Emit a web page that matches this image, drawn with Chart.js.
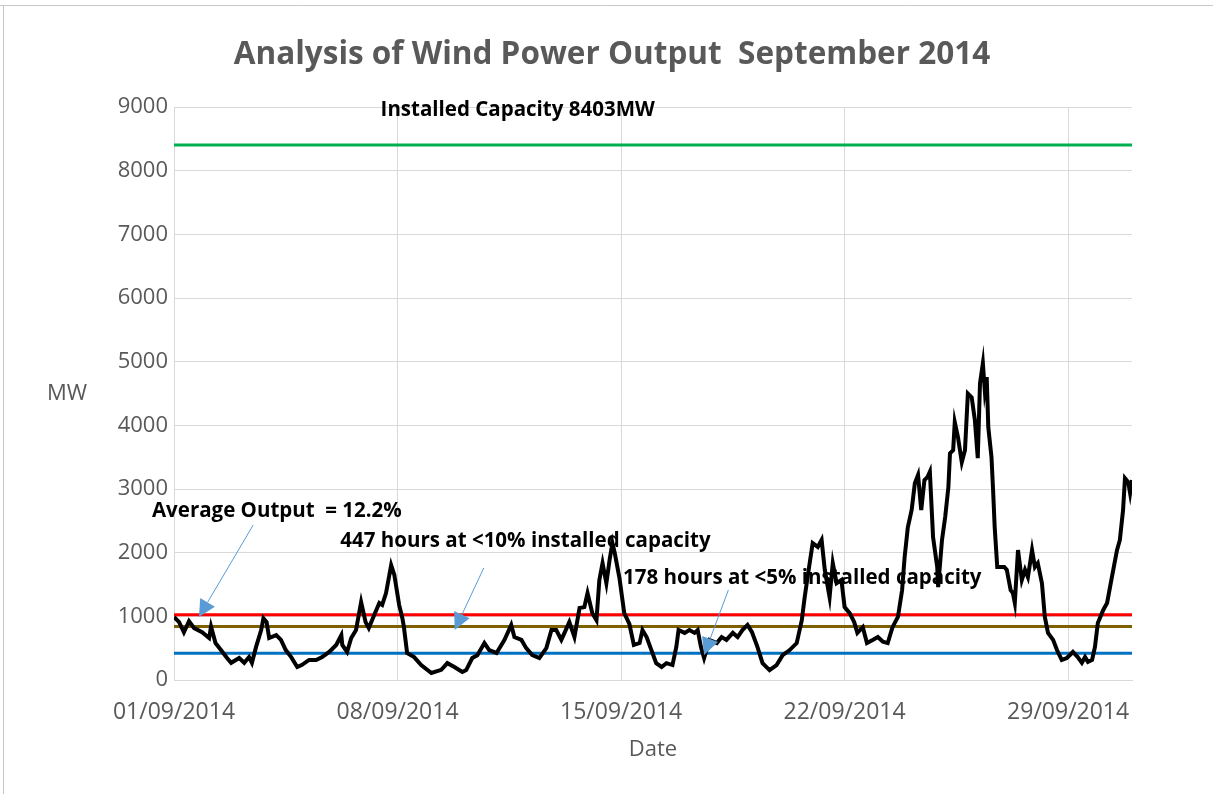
<!DOCTYPE html>
<html>
<head>
<meta charset="utf-8">
<title>Analysis of Wind Power Output September 2014</title>
<script src="https://cdn.jsdelivr.net/npm/chart.js@4.4.1/dist/chart.umd.min.js"></script>
<style>
  html, body { margin: 0; padding: 0; background: #fff; }
  #wrap { width: 1213px; height: 794px; }
</style>
</head>
<body>
<div id="wrap"><canvas id="windChart" width="1213" height="794"></canvas></div>
<script>
// Data: days since 01/09/2014 00:00 and wind output in MW
const dayOffsets = [
  0.00, 0.16, 0.31, 0.47, 0.63, 0.88, 1.10, 1.16, 1.30, 1.47, 1.66, 1.79, 2.04, 2.20, 2.35, 2.44, 2.57, 2.73, 2.80, 2.90,
  2.98, 3.20, 3.35, 3.50, 3.67, 3.86, 4.00, 4.23, 4.45, 4.64, 4.86, 5.08, 5.24, 5.27, 5.42, 5.55, 5.70, 5.86, 6.00, 6.10,
  6.27, 6.43, 6.52, 6.64, 6.80, 6.90, 7.05, 7.15, 7.20, 7.30, 7.52, 7.74, 8.06, 8.37, 8.56, 8.78, 9.03, 9.15, 9.34, 9.50,
  9.72, 9.87, 10.10, 10.35, 10.56, 10.66, 10.88, 11.03, 11.22, 11.44, 11.66, 11.82, 11.97, 12.13, 12.38, 12.54, 12.70, 12.85, 12.95, 13.10,
  13.23, 13.32, 13.42, 13.54, 13.64, 13.73, 13.80, 13.95, 14.10, 14.26, 14.40, 14.58, 14.67, 14.80, 14.95, 15.10, 15.27, 15.42, 15.61, 15.73,
  15.80, 15.99, 16.14, 16.30, 16.40, 16.50, 16.60, 16.77, 17.00, 17.15, 17.30, 17.50, 17.65, 17.80, 17.96, 18.10, 18.27, 18.43, 18.65, 18.87,
  19.06, 19.28, 19.50, 19.66, 19.75, 19.84, 20.00, 20.16, 20.28, 20.38, 20.53, 20.63, 20.75, 20.90, 21.00, 21.16, 21.30, 21.40, 21.57, 21.70,
  21.88, 22.04, 22.20, 22.35, 22.50, 22.67, 22.80, 22.88, 22.98, 23.10, 23.20, 23.30, 23.40, 23.50, 23.60, 23.67, 23.77, 23.90, 23.93, 24.05,
  24.15, 24.25, 24.30, 24.40, 24.45, 24.55, 24.67, 24.77, 24.86, 24.98, 25.08, 25.17, 25.24, 25.33, 25.39, 25.45, 25.50, 25.60, 25.65, 25.70,
  25.78, 26.00, 26.08, 26.20, 26.27, 26.33, 26.43, 26.55, 26.65, 26.74, 26.87, 26.96, 27.05, 27.18, 27.27, 27.37, 27.53, 27.65, 27.80, 27.96,
  28.15, 28.30, 28.43, 28.53, 28.62, 28.75, 28.84, 28.93, 29.10, 29.22, 29.37, 29.53, 29.62, 29.72, 29.78, 29.88, 29.94, 30.00
];
const outputMW = [
  990, 910, 750, 925, 815, 750, 660, 840, 580, 470, 345, 270, 345, 270, 360, 270, 520, 785, 970, 910,
  660, 705, 630, 470, 360, 205, 235, 315, 315, 360, 440, 550, 705, 550, 440, 660, 785, 1225, 910, 815,
  1020, 1210, 1180, 1365, 1805, 1650, 1180, 975, 830, 425, 360, 235, 110, 160, 265, 205, 125, 155, 345, 390,
  580, 470, 425, 630, 865, 675, 630, 500, 390, 345, 500, 785, 785, 630, 910, 675, 1130, 1145, 1365, 1050,
  940, 1570, 1835, 1520, 1885, 2150, 2000, 1600, 1050, 880, 550, 580, 785, 675, 470, 265, 205, 265, 235, 520,
  785, 740, 785, 740, 785, 520, 345, 630, 580, 675, 630, 740, 675, 785, 865, 750, 520, 265, 155, 235,
  390, 470, 580, 940, 1300, 1615, 2150, 2090, 2200, 1730, 1300, 1835, 1520, 1570, 1145, 1050, 910, 740, 830, 580,
  630, 675, 600, 580, 830, 990, 1410, 1930, 2400, 2670, 3090, 3220, 2670, 3140, 3190, 3270, 2245, 1775, 1460, 2200,
  2560, 3030, 3560, 3610, 4050, 3815, 3420, 3610, 4500, 4440, 4080, 3485, 4660, 4975, 4550, 4760, 3970, 3500, 2980, 2400,
  1775, 1775, 1730, 1410, 1365, 1210, 2040, 1570, 1730, 1615, 2040, 1775, 1835, 1520, 990, 740, 630, 470, 315, 345,
  440, 360, 270, 360, 285, 315, 520, 895, 1100, 1210, 1615, 2040, 2200, 2670, 3170, 3110, 2935, 3140
];

// Reference levels
const installedCapacity = 8403;
const averageOutput = 1025;    // 12.2%
const tenPercentLevel = 840;   // 10%
const fivePercentLevel = 420;  // 5%

const tickDays = [0, 7, 14, 21, 28];
const tickLabels = ['01/09/2014', '08/09/2014', '15/09/2014', '22/09/2014', '29/09/2014'];

// Annotations (positions in days / MW)
const noteTexts = ['Installed Capacity 8403MW', 'Average Output  = 12.2%', '447 hours at <10% installed capacity', '178 hours at <5% installed capacity'];
const noteX = [6.47, -0.69, 5.21, 14.06];
const noteY = [8953, 2654, 2183, 1602];
const arrowFrom = [[2.48, 2434], [9.70, 1759], [17.36, 1414]];
const arrowTo = [[0.78, 990], [8.79, 785], [16.60, 393]];

const FONT = "'Open Sans', 'Liberation Sans', sans-serif";
const GREY = '#595959';

const series = dayOffsets.map((d, i) => ({ x: d, y: outputMW[i] }));
const flat = v => [{ x: 0, y: v }, { x: 30, y: v }];

const extras = {
  id: 'extras',
  beforeDraw(chart) {
    const ctx = chart.ctx;
    ctx.save();
    ctx.strokeStyle = '#c8c8c8';
    ctx.lineWidth = 1;
    ctx.beginPath();
    ctx.moveTo(0, 5.5); ctx.lineTo(1213, 5.5);
    ctx.moveTo(3.5, 6); ctx.lineTo(3.5, 794);
    ctx.stroke();
    ctx.restore();
  },
  afterDatasetsDraw(chart) {
    const { ctx, scales: { x, y }, chartArea } = chart;
    ctx.save();
    // y axis title, horizontal
    ctx.fillStyle = GREY;
    ctx.font = '22px ' + FONT;
    ctx.textAlign = 'center';
    ctx.textBaseline = 'middle';
    ctx.fillText('MW', chartArea.left - 107, (chartArea.top + chartArea.bottom) / 2);

    // notes
    ctx.fillStyle = '#000';
    ctx.font = 'bold 20.5px ' + FONT;
    ctx.textAlign = 'left';
    noteTexts.forEach((t, i) => {
      ctx.fillText(t, x.getPixelForValue(noteX[i]), y.getPixelForValue(noteY[i]));
    });

    // arrows
    ctx.strokeStyle = '#5b9bd5';
    ctx.fillStyle = '#5b9bd5';
    ctx.lineWidth = 1;
    arrowFrom.forEach((f, i) => {
      const x0 = x.getPixelForValue(f[0]), y0 = y.getPixelForValue(f[1]);
      const x1 = x.getPixelForValue(arrowTo[i][0]), y1 = y.getPixelForValue(arrowTo[i][1]);
      const ang = Math.atan2(y1 - y0, x1 - x0);
      const len = 17, half = 8.5;
      const bx = x1 - len * Math.cos(ang), by = y1 - len * Math.sin(ang);
      ctx.beginPath();
      ctx.moveTo(x0, y0); ctx.lineTo(bx, by);
      ctx.stroke();
      ctx.beginPath();
      ctx.moveTo(x1, y1);
      ctx.lineTo(bx + half * Math.sin(ang), by - half * Math.cos(ang));
      ctx.lineTo(bx - half * Math.sin(ang), by + half * Math.cos(ang));
      ctx.closePath();
      ctx.fill();
    });
    ctx.restore();
  }
};

new Chart(document.getElementById('windChart'), {
  type: 'line',
  data: {
    datasets: [
      { label: 'Output', data: series, borderColor: '#000', borderWidth: 4, pointRadius: 0, tension: 0 },
      { label: 'Installed capacity', data: flat(installedCapacity), borderColor: '#00b050', borderWidth: 3, pointRadius: 0 },
      { label: 'Average', data: flat(averageOutput), borderColor: '#ff0000', borderWidth: 3, pointRadius: 0 },
      { label: '10%', data: flat(tenPercentLevel), borderColor: '#7f6000', borderWidth: 3, pointRadius: 0 },
      { label: '5%', data: flat(fivePercentLevel), borderColor: '#0070c0', borderWidth: 3, pointRadius: 0 }
    ]
  },
  options: {
    responsive: false,
    animation: false,
    layout: { padding: { left: 11, right: 0, top: 0, bottom: 0 } },
    plugins: {
      legend: { display: false },
      tooltip: { enabled: false },
      title: {
        display: true,
        text: 'Analysis of Wind Power Output  September 2014',
        color: GREY,
        font: { family: FONT, size: 31.5, weight: 'bold', lineHeight: 1.2 },
        padding: { top: 36, bottom: 33.2 }
      }
    },
    scales: {
      x: {
        type: 'linear',
        min: 0,
        max: 30,
        afterBuildTicks: s => { s.ticks = tickDays.map(v => ({ value: v })); },
        afterFit: s => { s.height = 114; },
        grid: { color: '#d9d9d9', drawTicks: false },
        border: { color: '#d9d9d9' },
        ticks: {
          padding: 19,
          color: GREY,
          font: { family: FONT, size: 23 },
          maxRotation: 0,
          callback: v => tickLabels[tickDays.indexOf(v)]
        },
        title: {
          display: true,
          text: 'Date',
          color: GREY,
          font: { family: FONT, size: 22, lineHeight: 1.2 },
          padding: { top: 0, bottom: 31 }
        }
      },
      y: {
        min: 0,
        max: 9000,
        afterFit: s => { s.width = 163; },
        grid: { color: '#d9d9d9', drawTicks: false },
        border: { color: '#d9d9d9' },
        ticks: { stepSize: 1000, padding: 6, color: GREY, font: { family: FONT, size: 22 }, callback: v => String(v) }
      },
      // empty right-hand margin so the title stays centred on the whole figure
      spacer: {
        position: 'right',
        min: 0,
        max: 1,
        afterFit: s => { s.width = 81; },
        grid: { display: false },
        border: { display: false },
        ticks: { display: false }
      }
    }
  },
  plugins: [extras]
});
</script>
</body>
</html>
